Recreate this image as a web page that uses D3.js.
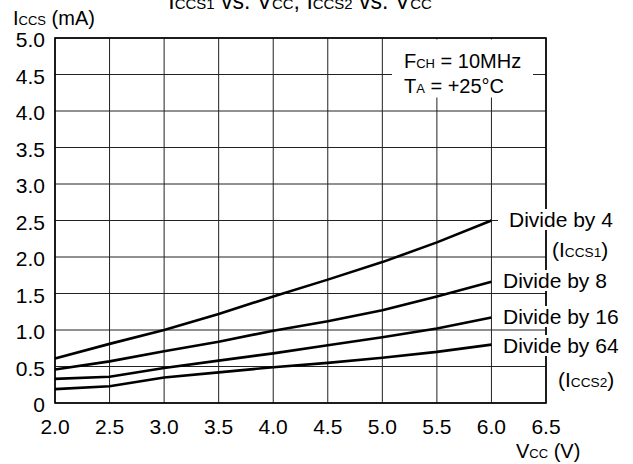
<!DOCTYPE html>
<html>
<head>
<meta charset="utf-8">
<script src="https://cdn.jsdelivr.net/npm/d3@7"></script>
<style>
  html, body { margin: 0; padding: 0; background: #fff; }
  svg { display: block; font-family: "Liberation Sans", Arial, sans-serif; }
</style>
</head>
<body>
<svg id="chart" width="633" height="464"></svg>
<script>
// ---- data ----
const vcc = [2.0, 2.5, 3.0, 3.5, 4.0, 4.5, 5.0, 5.5, 6.0];
const div4  = [0.61, 0.81, 1.00, 1.22, 1.46, 1.69, 1.93, 2.20, 2.50];
const div8  = [0.46, 0.57, 0.71, 0.84, 0.99, 1.12, 1.27, 1.46, 1.66];
const div16 = [0.33, 0.36, 0.48, 0.58, 0.68, 0.79, 0.90, 1.02, 1.17];
const div64 = [0.19, 0.23, 0.35, 0.42, 0.49, 0.55, 0.62, 0.70, 0.80];
const xTicks = [2.0, 2.5, 3.0, 3.5, 4.0, 4.5, 5.0, 5.5, 6.0, 6.5];
const yTicks = [0, 0.5, 1.0, 1.5, 2.0, 2.5, 3.0, 3.5, 4.0, 4.5, 5.0];
const seriesNames = ["Divide by 4", "Divide by 8", "Divide by 16", "Divide by 64"];

const svg = d3.select("#chart");
const x = d3.scaleLinear().domain([2.0, 6.5]).range([55, 546]);
const y = d3.scaleLinear().domain([0, 5]).range([403, 38]);

// gridlines
const grid = svg.append("g");
grid.selectAll(".vg").data(xTicks).join("line")
  .attr("x1", d => x(d)).attr("x2", d => x(d))
  .attr("y1", y(0)).attr("y2", y(5))
  .attr("stroke", "#222").attr("stroke-width", 1);
grid.selectAll(".hg").data(yTicks).join("line")
  .attr("y1", d => y(d)).attr("y2", d => y(d))
  .attr("x1", x(2.0)).attr("x2", x(6.5))
  .attr("stroke", "#222").attr("stroke-width", 1);

// frame
svg.append("rect")
  .attr("x", x(2.0)).attr("y", y(5))
  .attr("width", x(6.5) - x(2.0)).attr("height", y(0) - y(5))
  .attr("fill", "none").attr("stroke", "#000").attr("stroke-width", 1.6);

// tick labels
const fs = 20;
const tfs = 21;
svg.append("g").selectAll("text").data(yTicks).join("text")
  .attr("x", 45).attr("y", d => y(d) + 9)
  .attr("text-anchor", "end").attr("font-size", tfs).attr("fill", "#000")
  .text(d => d === 0 ? "0" : d3.format(".1f")(d));
svg.append("g").selectAll("text").data(xTicks).join("text")
  .attr("x", d => x(d)).attr("y", 434)
  .attr("text-anchor", "middle").attr("font-size", tfs).attr("fill", "#000")
  .text(d => d3.format(".1f")(d));

// helper for text with subscript-like small caps
function richText(g, xPos, yPos, parts, size, anchor) {
  const t = g.append("text").attr("x", xPos).attr("y", yPos)
    .attr("font-size", size).attr("fill", "#000");
  if (anchor) t.attr("text-anchor", anchor);
  parts.forEach(p => {
    t.append("tspan").attr("font-size", p[1] ? size * 0.65 : size).text(p[0]);
  });
  return t;
}

// title (partly cut off at the top)
richText(svg, 300, 9, [["I"], ["CCS1", 1], [" vs. V"], ["CC", 1], [", I"], ["CCS2", 1], [" vs. V"], ["CC", 1]], 23, "middle");

// axis titles
richText(svg, 13, 25, [["I"], ["CCS", 1], [" (mA)"]], fs);
richText(svg, 516, 458, [["V"], ["CC", 1], [" (V)"]], fs);

// curves
const line = d3.line().x(d => x(d[0])).y(d => y(d[1]));
const allSeries = [div4, div8, div16, div64];
svg.append("g").selectAll("path").data(allSeries).join("path")
  .attr("d", s => line(vcc.map((v, i) => [v, s[i]])))
  .attr("fill", "none").attr("stroke", "#000").attr("stroke-width", 2.6)
  .attr("stroke-linejoin", "round");

// condition box
svg.append("rect").attr("x", 392).attr("y", 39.5).attr("width", 141).attr("height", 58)
  .attr("fill", "#fff");
richText(svg, 404, 68, [["F"], ["CH", 1], [" = 10MHz"]], fs);
richText(svg, 404, 93, [["T"], ["A", 1], [" = +25°C"]], fs);

// right-side labels with white backgrounds
const labelG = svg.append("g");
const rfs = 21;
const labels = [
  { parts: [[seriesNames[0]]], x: 509, y: 227, padL: 11 },
  { parts: [["("], ["I"], ["CCS1", 1], [")"]], x: 552, y: 257, padL: 3 },
  { parts: [[seriesNames[1]]], x: 503, y: 288, padL: 4 },
  { parts: [[seriesNames[2]]], x: 503, y: 324, padL: 4 },
  { parts: [[seriesNames[3]]], x: 503, y: 353, padL: 4 },
  { parts: [["("], ["I"], ["CCS2", 1], [")"]], x: 558, y: 387, padL: 3 }
];
labels.forEach(l => {
  const t = richText(labelG, l.x, l.y, l.parts, rfs);
  const b = t.node().getBBox();
  labelG.insert("rect", () => t.node())
    .attr("x", b.x - l.padL).attr("y", b.y + 1)
    .attr("width", b.width + l.padL + 2).attr("height", b.height - 2)
    .attr("fill", "#fff");
});
</script>
</body>
</html>
